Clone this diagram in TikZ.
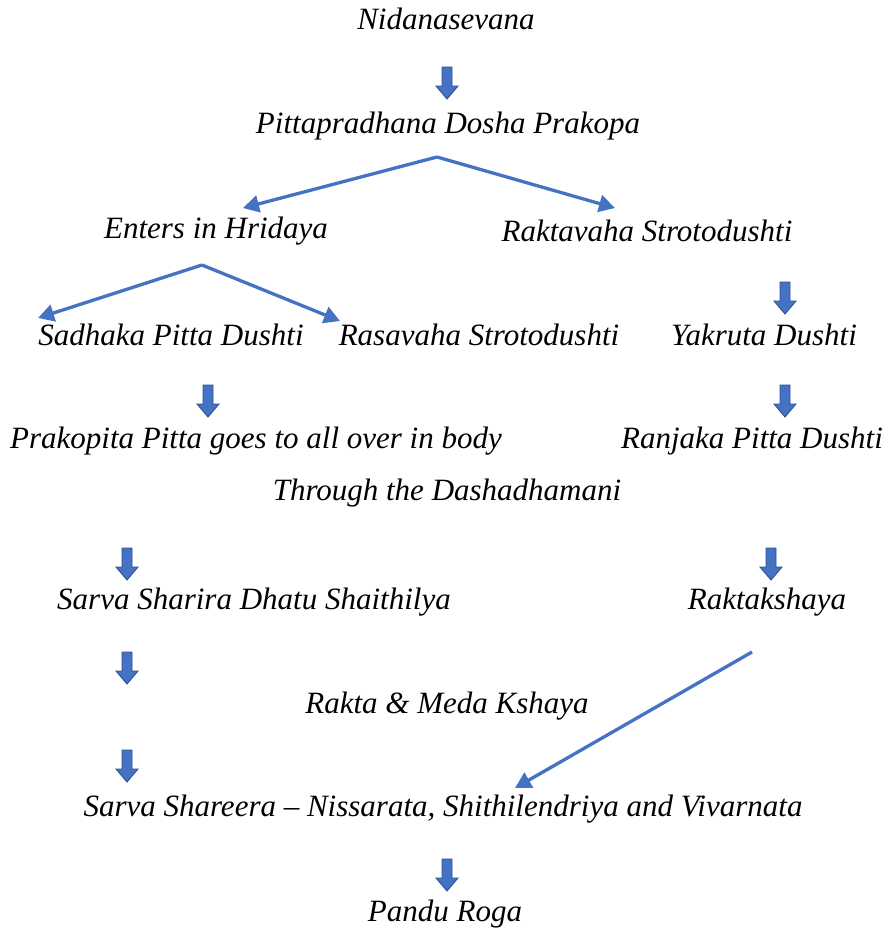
\documentclass[tikz,border=0pt]{standalone}
\usepackage{fontspec}
\setmainfont{Liberation Serif}
\usetikzlibrary{arrows.meta}
\definecolor{ablue}{HTML}{4472C4}
\definecolor{adark}{HTML}{2F528F}
\begin{document}
\begin{tikzpicture}[x=1pt,y=-1pt,
  lbl/.style={font=\fontsize{31}{35}\selectfont\itshape, inner sep=0pt, anchor=center},
  barrow/.style={fill=ablue, draw=adark, line width=0.9pt, line join=miter},
  larrow/.style={draw=ablue, line width=3.3pt, -{Triangle[length=16pt,width=17pt]}}
]
\useasboundingbox (0,0) rectangle (884,935);
\fill[white] (0,0) rectangle (884,935);

\node[lbl] (n1) at (446,19) {Nidanasevana};
\node[lbl] (n2) at (448,126) {Pittapradhana Dosha Prakopa};
\node[lbl] (n3) at (216,231) {Enters in Hridaya};
\node[lbl] (n4) at (647,231) {Raktavaha Strotodushti};
\node[lbl] (n5) at (171,335) {Sadhaka Pitta Dushti};
\node[lbl] (n6) at (479,335) {Rasavaha Strotodushti};
\node[lbl] (n7) at (764,335) {Yakruta Dushti};
\node[lbl] (n8) at (256,441) {Prakopita Pitta goes to all over in body};
\node[lbl] (n9) at (752,441) {Ranjaka Pitta Dushti};
\node[lbl] (n10) at (447,493) {Through the Dashadhamani};
\node[lbl] (n11) at (254,602) {Sarva Sharira Dhatu Shaithilya};
\node[lbl] (n12) at (767,602) {Raktakshaya};
\node[lbl] (n13) at (447,706) {Rakta \& Meda Kshaya};
\node[lbl] (n14) at (443,809) {Sarva Shareera -- Nissarata, Shithilendriya and Vivarnata};
\node[lbl] (n15) at (445,914) {Pandu Roga};

% block arrows (top-centre coordinates)
\coordinate (b1) at (447,67);
\coordinate (b2) at (785,282);
\coordinate (b3) at (208,385);
\coordinate (b4) at (785,385);
\coordinate (b5) at (127,548);
\coordinate (b6) at (771,548);
\coordinate (b7) at (127,652);
\coordinate (b8) at (127,750);
\coordinate (b9) at (447,859);
\foreach \b in {b1,b2,b3,b4,b5,b6,b7,b8,b9}{
  \draw[barrow] (\b) ++(-5,0) -- ++(10,0) -- ++(0,19) -- ++(6,0) -- ++(-11,13)
     -- ++(-11,-13) -- ++(6,0) -- cycle;
}

% line arrows
\coordinate (s1) at (437,157);
\coordinate (t1) at (243,208);
\coordinate (t2) at (615,208);
\coordinate (s2) at (202,265);
\coordinate (t3) at (38,318);
\coordinate (t4) at (340,321);
\coordinate (s3) at (752,652);
\coordinate (t5) at (515,788);
\draw[larrow] (s1) -- (t1);
\draw[larrow] (s1) -- (t2);
\draw[larrow] (s2) -- (t3);
\draw[larrow] (s2) -- (t4);
\draw[larrow] (s3) -- (t5);
\end{tikzpicture}
\end{document}
